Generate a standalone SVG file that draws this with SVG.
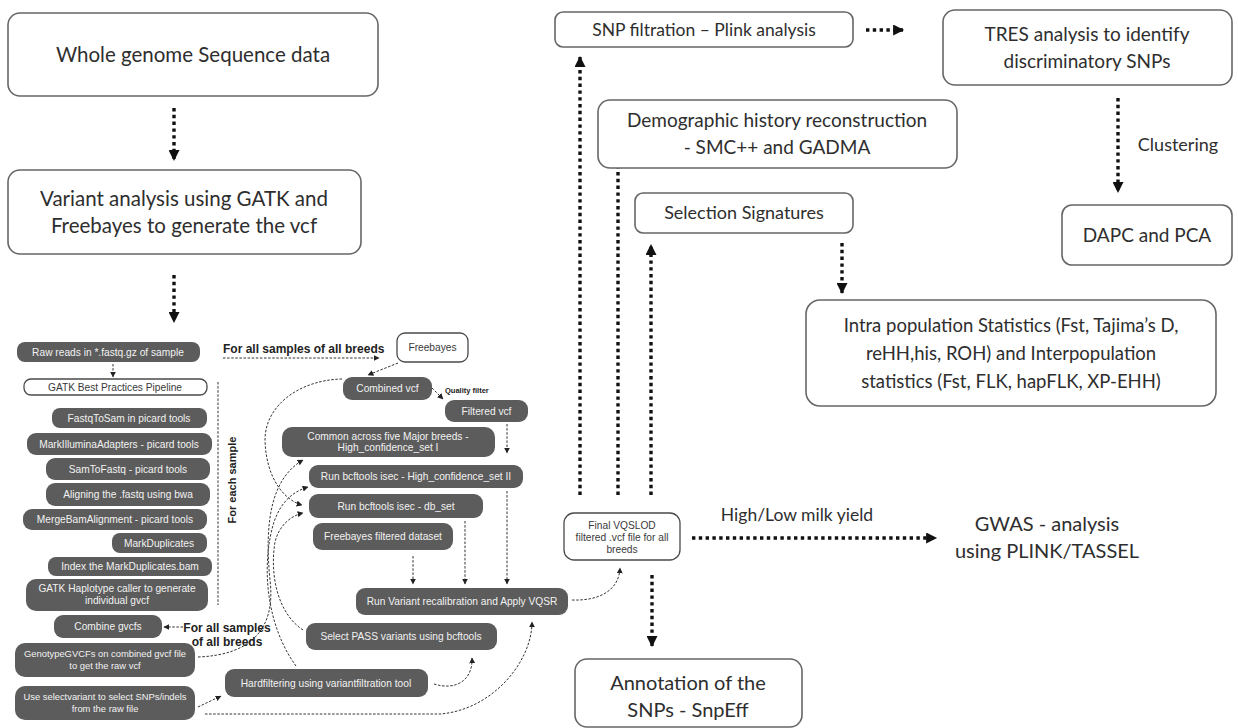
<svg xmlns="http://www.w3.org/2000/svg" width="1238" height="728" viewBox="0 0 1238 728">
  <style>
    .big { fill: #ffffff; stroke: #666666; stroke-width: 1.6; }
    .bt { font-family: Lato, "Open Sans", sans-serif; fill: #2e2e2e; text-anchor: middle; }
    .pill { fill: #5c5c5c; }
    .pt { font-family: "Liberation Sans", Arial, sans-serif; font-size: 10.2px; fill: #f2f2f2; text-anchor: middle; }
    .pt.tight { font-size: 9.4px; }
    .wpill { fill: #ffffff; stroke: #4a4a4a; stroke-width: 1.3; }
    .wt { font-family: "Liberation Sans", Arial, sans-serif; font-size: 10.2px; fill: #3a3a3a; text-anchor: middle; }
    .lbl { font-family: "Liberation Sans", Arial, sans-serif; font-weight: bold; fill: #222; }
    .dot { fill: none; stroke: #111; stroke-width: 3.4; stroke-dasharray: 3.4 3.4; }
    .dash { fill: none; stroke: #333; stroke-width: 1; stroke-dasharray: 2.5 1.6; }
  </style>
  <defs>
    <marker id="bigHead" viewBox="0 0 10 10" refX="9" refY="5" markerWidth="12" markerHeight="11" markerUnits="userSpaceOnUse" orient="auto">
      <path d="M0,0 L10,5 L0,10 z" fill="#111"/>
    </marker>
    <marker id="smallHead" viewBox="0 0 10 10" refX="9" refY="5" markerWidth="6" markerHeight="6" markerUnits="userSpaceOnUse" orient="auto">
      <path d="M0,0 L10,5 L0,10 z" fill="#222"/>
    </marker>
  </defs>

  <!-- connectors -->
  <g id="connectors">
    <!-- main pipeline, thick dotted -->
    <line class="dot" x1="174" y1="108" x2="174" y2="160" marker-end="url(#bigHead)"/>
    <line class="dot" x1="174" y1="275" x2="174" y2="322" marker-end="url(#bigHead)"/>
    <line class="dot" x1="866" y1="30" x2="903" y2="30" marker-end="url(#bigHead)"/>
    <line class="dot" x1="1118" y1="98" x2="1118" y2="192" marker-end="url(#bigHead)"/>
    <line class="dot" x1="842" y1="243" x2="842" y2="293" marker-end="url(#bigHead)"/>
    <line class="dot" x1="580" y1="495" x2="580" y2="57" marker-end="url(#bigHead)"/>
    <line class="dot" x1="618" y1="495" x2="618" y2="152" marker-end="url(#bigHead)"/>
    <line class="dot" x1="651" y1="495" x2="651" y2="245" marker-end="url(#bigHead)"/>
    <line class="dot" x1="692" y1="538" x2="936" y2="538" marker-end="url(#bigHead)"/>
    <line class="dot" x1="652" y1="575" x2="652" y2="646" marker-end="url(#bigHead)"/>

    <!-- detailed workflow, thin dashed -->
    <line class="dash" x1="113" y1="364" x2="113" y2="377" marker-end="url(#smallHead)"/>
    <line class="dash" x1="223" y1="358" x2="379" y2="358" marker-end="url(#smallHead)"/>
    <line class="dash" x1="398" y1="363" x2="368" y2="375" marker-end="url(#smallHead)"/>
    <line class="dash" x1="432" y1="388" x2="443" y2="399" marker-end="url(#smallHead)"/>
    <line class="dash" x1="507" y1="424" x2="507" y2="453" marker-end="url(#smallHead)"/>
    <line class="dash" x1="413" y1="556" x2="413" y2="584" marker-end="url(#smallHead)"/>
    <line class="dash" x1="465" y1="521" x2="465" y2="584" marker-end="url(#smallHead)"/>
    <line class="dash" x1="507" y1="491" x2="507" y2="584" marker-end="url(#smallHead)"/>
    <line class="dash" x1="218" y1="382" x2="218" y2="605"/>
    <line class="dash" x1="183" y1="627" x2="164" y2="627" marker-end="url(#smallHead)"/>
    <line class="dash" x1="198" y1="707" x2="221" y2="696" marker-end="url(#smallHead)"/>
    <path class="dash" d="M572,600 C600,601 619,590 620,568" marker-end="url(#smallHead)"/>
    <path class="dash" d="M434,684 C456,691 473,680 472,658" marker-end="url(#smallHead)"/>
    <path class="dash" d="M205,714 L440,714 C492,710 532,662 532,622" marker-end="url(#smallHead)"/>
    <path class="dash" d="M342,379 C300,380 265,405 265,440 C266,478 284,500 302,505" marker-end="url(#smallHead)"/>
    <path class="dash" d="M198,657 C250,655 276,630 270,580 C264,520 272,478 303,460" marker-end="url(#smallHead)"/>
    <path class="dash" d="M296,666 C264,622 262,560 274,522 C281,502 292,492 308,487" marker-end="url(#smallHead)"/>
    <path class="dash" d="M303,630 C276,612 270,572 275,542 C279,526 290,516 303,513" marker-end="url(#smallHead)"/>
  </g>

  <!-- labels on connectors -->
  <g id="edge-labels">
    <text class="lbl" x="223" y="353" font-size="12">For all samples of all breeds</text>
    <text class="lbl" x="445" y="393" font-size="7.5">Quality filter</text>
    <text class="lbl" x="227" y="632" font-size="12" text-anchor="middle">For all samples</text>
    <text class="lbl" x="227" y="646" font-size="12" text-anchor="middle">of all breeds</text>
    <text class="lbl" x="236" y="480" font-size="11" text-anchor="middle" transform="rotate(-90 236 480)">For each sample</text>
    <text class="bt" x="1178" y="151" font-size="18">Clustering</text>
    <text class="bt" x="797" y="521" font-size="17.5">High/Low milk yield</text>
  </g>

  <!-- overview boxes -->
  <g id="wgs">
    <rect class="big" x="8" y="13" width="370" height="83" rx="12"/>
    <text class="bt" x="193" y="62" font-size="20.5">Whole genome Sequence data</text>
  </g>
  <g id="variant-analysis">
    <rect class="big" x="8" y="170" width="353" height="84" rx="12"/>
    <text class="bt" x="184" y="206" font-size="20.5">Variant analysis using GATK and</text>
    <text class="bt" x="184" y="233" font-size="20.5">Freebayes to generate the vcf</text>
  </g>
  <g id="snp-filtration">
    <rect class="big" x="555" y="12" width="298" height="35" rx="8"/>
    <text class="bt" x="704" y="36" font-size="17.5">SNP filtration – Plink analysis</text>
  </g>
  <g id="tres">
    <rect class="big" x="943" y="10" width="289" height="75" rx="12"/>
    <text class="bt" x="1087" y="41" font-size="19">TRES analysis to identify</text>
    <text class="bt" x="1087" y="68" font-size="19">discriminatory SNPs</text>
  </g>
  <g id="demographic">
    <rect class="big" x="598" y="100" width="359" height="68" rx="12"/>
    <text class="bt" x="777" y="127" font-size="19">Demographic history reconstruction</text>
    <text class="bt" x="777" y="154" font-size="19">- SMC++ and GADMA</text>
  </g>
  <g id="selection">
    <rect class="big" x="635" y="193" width="218" height="40" rx="8"/>
    <text class="bt" x="744" y="219" font-size="18">Selection Signatures</text>
  </g>
  <g id="dapc">
    <rect class="big" x="1062" y="205" width="170" height="60" rx="10"/>
    <text class="bt" x="1147" y="242" font-size="19">DAPC and PCA</text>
  </g>
  <g id="statistics">
    <rect class="big" x="806" y="300" width="410" height="106" rx="14"/>
    <text class="bt" x="1011" y="332" font-size="18.5">Intra population Statistics (Fst, Tajima’s D,</text>
    <text class="bt" x="1011" y="360" font-size="18.5">reHH,his, ROH) and Interpopulation</text>
    <text class="bt" x="1011" y="388" font-size="18.5">statistics (Fst, FLK, hapFLK, XP-EHH)</text>
  </g>
  <g id="final-vcf">
    <rect class="wpill" x="564" y="513" width="116" height="47" rx="10"/>
    <text class="wt" x="622" y="529" font-size="10">Final VQSLOD</text>
    <text class="wt" x="622" y="541" font-size="10">filtered .vcf file for all</text>
    <text class="wt" x="622" y="553" font-size="10">breeds</text>
  </g>
  <g id="gwas">
    <text class="bt" x="1047" y="531" font-size="20">GWAS - analysis</text>
    <text class="bt" x="1047" y="558" font-size="20">using PLINK/TASSEL</text>
  </g>
  <g id="annotation">
    <rect class="big" x="575" y="659" width="227" height="68" rx="12"/>
    <text class="bt" x="688" y="690" font-size="20">Annotation of the</text>
    <text class="bt" x="688" y="717" font-size="20">SNPs - SnpEff</text>
  </g>

  <!-- GATK per-sample steps -->
  <g id="raw-reads">
    <rect class="pill" x="17" y="342" width="183" height="20" rx="8"/>
    <text class="pt" x="108" y="355.5">Raw reads in *.fastq.gz of sample</text>
  </g>
  <g id="gatk-pipeline">
    <rect class="wpill" x="24" y="379" width="183" height="16" rx="7"/>
    <text class="wt" x="115" y="390.5">GATK Best Practices Pipeline</text>
  </g>
  <g id="fastqtosam">
    <rect class="pill" x="52" y="408" width="155" height="20" rx="8"/>
    <text class="pt" x="129" y="421.5">FastqToSam in picard tools</text>
  </g>
  <g id="markillumina">
    <rect class="pill" x="27" y="433" width="185" height="22" rx="9"/>
    <text class="pt" x="119" y="447.5">MarkIlluminaAdapters - picard tools</text>
  </g>
  <g id="samtofastq">
    <rect class="pill" x="46" y="458" width="164" height="22" rx="9"/>
    <text class="pt" x="128" y="472.5">SamToFastq - picard tools</text>
  </g>
  <g id="bwa">
    <rect class="pill" x="46" y="483" width="164" height="23" rx="9"/>
    <text class="pt" x="128" y="498">Aligning the .fastq using bwa</text>
  </g>
  <g id="mergebam">
    <rect class="pill" x="23" y="509" width="184" height="21" rx="9"/>
    <text class="pt" x="115" y="523">MergeBamAlignment - picard tools</text>
  </g>
  <g id="markdup">
    <rect class="pill" x="112" y="533" width="95" height="20" rx="8"/>
    <text class="pt" x="159" y="546.5">MarkDuplicates</text>
  </g>
  <g id="index-bam">
    <rect class="pill" x="48" y="557" width="164" height="19" rx="8"/>
    <text class="pt" x="130" y="570">Index the MarkDuplicates.bam</text>
  </g>
  <g id="haplotypecaller">
    <rect class="pill" x="26" y="579" width="182" height="32" rx="10"/>
    <text class="pt" x="117" y="592">GATK Haplotype caller to generate</text>
    <text class="pt" x="117" y="604">individual gvcf</text>
  </g>
  <g id="combine-gvcfs">
    <rect class="pill" x="54" y="615" width="108" height="23" rx="9"/>
    <text class="pt" x="108" y="630">Combine gvcfs</text>
  </g>
  <g id="genotypegvcfs">
    <rect class="pill" x="15" y="643" width="180" height="34" rx="10"/>
    <text class="pt tight" x="105" y="657">GenotypeGVCFs on combined gvcf file</text>
    <text class="pt tight" x="105" y="669">to get the raw vcf</text>
  </g>
  <g id="selectvariant">
    <rect class="pill" x="15" y="686" width="180" height="34" rx="10"/>
    <text class="pt tight" x="105" y="700">Use selectvariant to select SNPs/indels</text>
    <text class="pt tight" x="105" y="712">from the raw file</text>
  </g>

  <!-- multi-breed filtering steps -->
  <g id="freebayes">
    <rect class="wpill" x="397" y="333" width="71" height="29" rx="8"/>
    <text class="wt" x="432.5" y="351">Freebayes</text>
  </g>
  <g id="combined-vcf">
    <rect class="pill" x="343" y="377" width="89" height="23" rx="9"/>
    <text class="pt" x="387.5" y="392">Combined vcf</text>
  </g>
  <g id="filtered-vcf">
    <rect class="pill" x="445" y="400" width="83" height="22" rx="9"/>
    <text class="pt" x="486.5" y="414.5">Filtered vcf</text>
  </g>
  <g id="hc-set-1">
    <rect class="pill" x="282" y="427" width="213" height="30" rx="10"/>
    <text class="pt" x="388" y="439.5">Common across five Major breeds -</text>
    <text class="pt" x="388" y="451">High_confidence_set I</text>
  </g>
  <g id="hc-set-2">
    <rect class="pill" x="309" y="465" width="214" height="23" rx="9"/>
    <text class="pt" x="416" y="480">Run bcftools isec - High_confidence_set II</text>
  </g>
  <g id="db-set">
    <rect class="pill" x="309" y="494" width="174" height="24" rx="9"/>
    <text class="pt" x="396" y="509.5">Run bcftools isec - db_set</text>
  </g>
  <g id="freebayes-filtered">
    <rect class="pill" x="313" y="523" width="140" height="27" rx="9"/>
    <text class="pt" x="383" y="540">Freebayes filtered dataset</text>
  </g>
  <g id="vqsr">
    <rect class="pill" x="356" y="588" width="212" height="27" rx="9"/>
    <text class="pt" x="462" y="605">Run Variant recalibration and Apply VQSR</text>
  </g>
  <g id="select-pass">
    <rect class="pill" x="306" y="623" width="191" height="27" rx="9"/>
    <text class="pt" x="401" y="640">Select PASS variants using bcftools</text>
  </g>
  <g id="hardfiltering">
    <rect class="pill" x="225" y="669" width="203" height="28" rx="9"/>
    <text class="pt" x="326" y="686.5">Hardfiltering using variantfiltration tool</text>
  </g>
</svg>
